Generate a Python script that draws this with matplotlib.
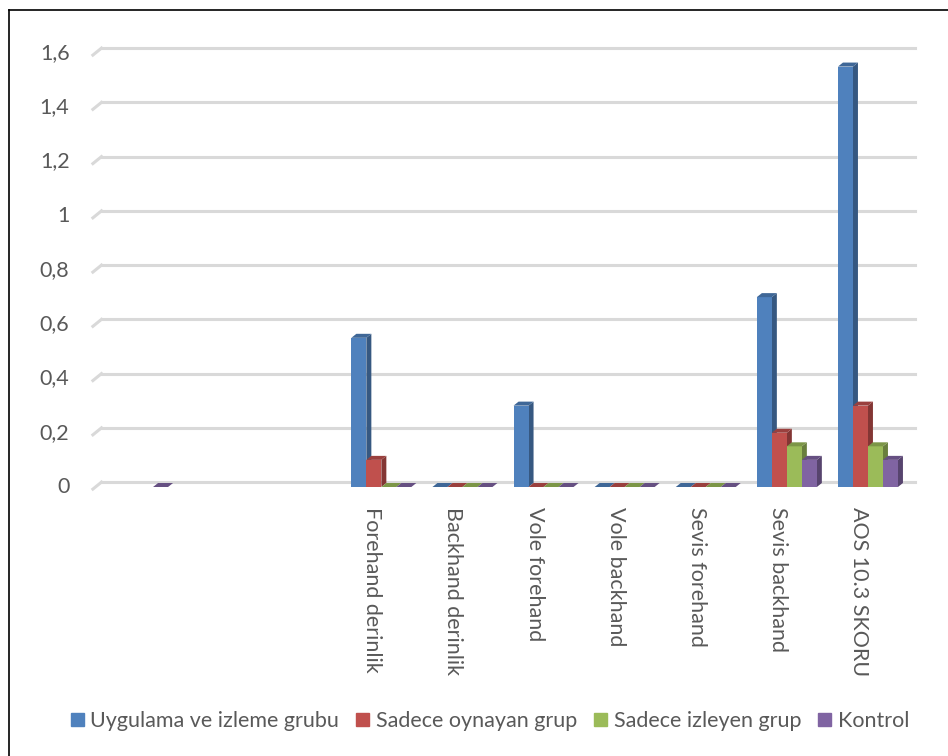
import numpy as np
import matplotlib
matplotlib.use("Agg")
import matplotlib.pyplot as plt
from matplotlib.patches import Polygon, Rectangle
from matplotlib.lines import Line2D
import matplotlib.transforms as mtransforms
from matplotlib.colors import to_rgb

plt.rcParams['font.family'] = ['Lato', 'DejaVu Sans']

# categories (the first three are blank columns in the sheet)
categories = ["", "", "", "Forehand derinlik", "Backhand derinlik", "Vole forehand",
              "Vole backhand", "Sevis forehand", "Sevis backhand", "AOS 10.3 SKORU"]
series_names = ["Uygulama ve izleme grubu", "Sadece oynayan grup",
                "Sadece izleyen grup", "Kontrol"]
nan = np.nan
uygulama = [nan, nan, nan, 0.55, 0.0, 0.30, 0.0, 0.0, 0.70, 1.55]
oynayan = [nan, nan, nan, 0.10, 0.0, 0.0, 0.0, 0.0, 0.20, 0.30]
izleyen = [nan, nan, nan, 0.0, 0.0, 0.0, 0.0, 0.0, 0.15, 0.15]
kontrol = [0.0, nan, nan, 0.0, 0.0, 0.0, 0.0, 0.0, 0.10, 0.10]
yticks = [0, 0.2, 0.4, 0.6, 0.8, 1.0, 1.2, 1.4, 1.6]

colors = ["#4F81BD", "#C0504D", "#9BBB59", "#8064A2"]
text_color = "#595959"
fs = 15.5


def shade(c, f):
    r, g, b = to_rgb(c)
    return (r * f, g * f, b * f)


W, H = 948, 756
cat_px = 81.1
ax_left = 97.5
fig = plt.figure(figsize=(W / 100, H / 100), dpi=100)
ax = fig.add_axes([ax_left / W, 1 - 487 / H, cat_px * len(categories) / W, 434 / H])
ax.set_xlim(-0.5, len(categories) - 0.5)
ax.set_ylim(0, 1.6)
ax.axis("off")

# pixel sizes converted into data units
px_x = 1 / cat_px
px_y = 1.6 / 434.0
depth_dx, depth_dy = 5 * px_x, 4 * px_y
wall_dx, wall_dy = 7 * px_x, 7 * px_y
x_start = -0.5 - 3 * px_x
x_end = -0.5 + (915 - ax_left) * px_x

# gridlines on the back wall with the slanted side-wall stub at the left
for v in yticks:
    ax.add_line(Line2D([x_start - 0.02, x_start + wall_dx], [v - wall_dy * 0.3, v + wall_dy * 0.7],
                       color="#d9d9d9", lw=2.2, clip_on=False, zorder=1))
    ax.add_line(Line2D([x_start + wall_dx, x_end], [v + wall_dy * 0.7, v + wall_dy * 0.7],
                       color="#d9d9d9", lw=2.2, clip_on=False, zorder=1))
    lbl = ("%.1f" % v).replace(".", ",") if v not in (0, 1.0) else "%d" % v
    ax.text(x_start - 25 * px_x, v, lbl, ha="right", va="center", fontsize=fs,
            color=text_color)

# 3D-looking columns: front face, right side, top
bar_w = 15 * px_x
data = [uygulama, oynayan, izleyen, kontrol]
x = np.arange(len(categories))
for i, (vals, col) in enumerate(zip(data, colors)):
    left = x - 2 * bar_w + i * bar_w
    vals = np.array(vals, dtype=float)
    ok = ~np.isnan(vals)
    ax.bar(left[ok], vals[ok], width=bar_w, align="edge", color=col,
           edgecolor="none", zorder=3, label=series_names[i])
    for xl, h in zip(left[ok], vals[ok]):
        side = [(xl + bar_w, 0), (xl + bar_w + depth_dx, depth_dy),
                (xl + bar_w + depth_dx, h + depth_dy), (xl + bar_w, h)]
        top = [(xl, h), (xl + bar_w, h), (xl + bar_w + depth_dx, h + depth_dy),
               (xl + depth_dx, h + depth_dy)]
        ax.add_patch(Polygon(side, closed=True, color=shade(col, 0.68), lw=0, zorder=2.9))
        ax.add_patch(Polygon(top, closed=True, color=shade(col, 0.8), lw=0, zorder=3.1))

# rotated category labels
lab_tr = mtransforms.offset_copy(ax.transData, fig=fig, x=-9, y=-20, units="dots")
for xi, name in zip(x, categories):
    if name:
        ax.text(xi, 0, name, rotation=270, ha="center", va="top", fontsize=fs,
                color=text_color, transform=lab_tr)

# legend
handles = [Rectangle((0, 0), 1, 1, color=c) for c in colors]
fig.legend(handles, series_names, loc="center", bbox_to_anchor=(490 / W, 1 - 721 / H),
           ncol=4, frameon=False, fontsize=fs, handlelength=0.6, handleheight=0.6,
           handletextpad=0.3, columnspacing=0.8, labelcolor=text_color)

# chart frame
fig.add_artist(Line2D([9 / W, 9 / W], [0, 1 - 10 / H], color="black", lw=1.2))
fig.add_artist(Line2D([9 / W, 1], [1 - 10 / H, 1 - 10 / H], color="black", lw=1.2))

fig.savefig("out.png", dpi=100)
